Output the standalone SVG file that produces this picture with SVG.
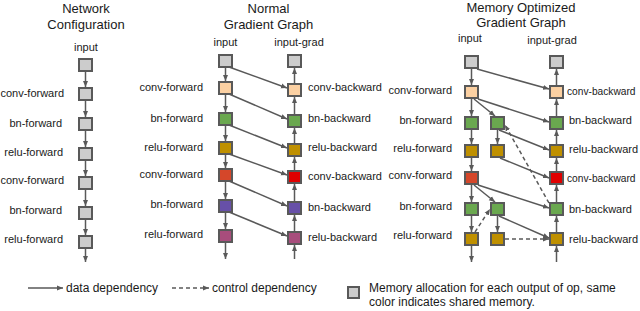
<svg xmlns="http://www.w3.org/2000/svg" width="640" height="311" viewBox="0 0 640 311">
<style>
text{font-family:"Liberation Sans",Arial,sans-serif;fill:#1a1a1a}
.t{font-size:13px;text-anchor:middle}
.l{font-size:11px}
.s{font-size:10.2px}
.e{text-anchor:end}
.m{text-anchor:middle}
.g{font-size:12px}
rect{stroke:#595959;stroke-width:2}
.gy{fill:#cccccc}.pe{fill:#fbd0a2}.gr{fill:#6aa84f}.mu{fill:#bf9000}.rf{fill:#d5472a}.rb{fill:#e00000}.pu{fill:#6750a8}.pk{fill:#a84d7c}
.c line,.lg line{stroke:#595959;stroke-width:1.5;marker-end:url(#a)}
.d{stroke-dasharray:4 3}
</style>
<defs>
<marker id="a" viewBox="0 0 6 6" refX="6" refY="3" markerWidth="6" markerHeight="6" markerUnits="userSpaceOnUse" orient="auto"><path d="M0,0.5L6,3L0,5.5z" fill="#595959"/></marker>
</defs>
<g id="titles">
<text class="t" x="86" y="13">Network</text><text class="t" x="86" y="29">Configuration</text>
<text class="t" x="268.5" y="13">Normal</text><text class="t" x="268.5" y="29">Gradient Graph</text>
<text class="t" x="521" y="12">Memory Optimized</text><text class="t" x="521" y="27">Gradient Graph</text>
</g>
<g id="p1">
<g id="p1-input"><text class="l m" x="86" y="51">input</text><rect class="gy" x="79" y="59" width="13" height="12"/></g>
<g id="p1-conv1"><text class="l e" x="64" y="97">conv-forward</text><rect class="gy" x="79" y="88" width="13" height="12"/></g>
<g id="p1-bn1"><text class="l e" x="62" y="127">bn-forward</text><rect class="gy" x="79" y="118" width="13" height="12"/></g>
<g id="p1-relu1"><text class="l e" x="63" y="156">relu-forward</text><rect class="gy" x="79" y="148" width="13" height="12"/></g>
<g id="p1-conv2"><text class="l e" x="64" y="184">conv-forward</text><rect class="gy" x="79" y="177" width="13" height="12"/></g>
<g id="p1-bn2"><text class="l e" x="62" y="214">bn-forward</text><rect class="gy" x="79" y="207" width="13" height="12"/></g>
<g id="p1-relu2"><text class="l e" x="63" y="243">relu-forward</text><rect class="gy" x="79" y="236" width="13" height="12"/></g>
</g>
<g id="p2">
<g id="p2-input"><text class="l m" x="225.5" y="46">input</text><rect class="gy" x="219" y="55" width="13" height="12"/></g>
<g id="p2-conv1"><text class="l e" x="203" y="91">conv-forward</text><rect class="pe" x="219" y="82" width="13" height="12"/></g>
<g id="p2-bn1"><text class="l e" x="203" y="122">bn-forward</text><rect class="gr" x="219" y="113" width="13" height="12"/></g>
<g id="p2-relu1"><text class="l e" x="203" y="151">relu-forward</text><rect class="mu" x="219" y="142" width="13" height="12"/></g>
<g id="p2-conv2"><text class="l e" x="203" y="178">conv-forward</text><rect class="rf" x="219" y="169" width="13" height="12"/></g>
<g id="p2-bn2"><text class="l e" x="203" y="208">bn-forward</text><rect class="pu" x="219" y="200" width="13" height="12"/></g>
<g id="p2-relu2"><text class="l e" x="203" y="238">relu-forward</text><rect class="pk" x="219" y="230" width="13" height="12"/></g>
<g id="p2-ingrad"><text class="l m" x="299" y="46">input-grad</text><rect class="gy" x="288" y="55" width="13" height="12"/></g>
<g id="p2-convb1"><text class="l" x="308" y="91">conv-backward</text><rect class="pe" x="288" y="84" width="13" height="12"/></g>
<g id="p2-bnb1"><text class="l" x="308" y="122">bn-backward</text><rect class="gr" x="288" y="115" width="13" height="12"/></g>
<g id="p2-relub1"><text class="l" x="308" y="151">relu-backward</text><rect class="mu" x="288" y="144" width="13" height="12"/></g>
<g id="p2-convb2"><text class="l" x="308" y="180">conv-backward</text><rect class="rb" x="288" y="171" width="13" height="12"/></g>
<g id="p2-bnb2"><text class="l" x="308" y="211">bn-backward</text><rect class="pu" x="288" y="202" width="13" height="12"/></g>
<g id="p2-relub2"><text class="l" x="308" y="241">relu-backward</text><rect class="pk" x="288" y="232" width="13" height="12"/></g>
</g>
<g id="p3">
<g id="p3-input"><text class="l m" x="470" y="42">input</text><rect class="gy" x="465" y="56" width="13" height="12"/></g>
<g id="p3-conv1"><text class="l e" x="452" y="94">conv-forward</text><rect class="pe" x="465" y="86" width="13" height="12"/></g>
<g id="p3-bn1"><text class="l e" x="452" y="124">bn-forward</text><rect class="gr" x="465" y="117" width="13" height="12"/></g>
<g id="p3-bn1c"><rect class="gr" x="491" y="117" width="13" height="12"/></g>
<g id="p3-relu1"><text class="l e" x="452" y="152">relu-forward</text><rect class="mu" x="465" y="145" width="13" height="12"/></g>
<g id="p3-relu1c"><rect class="mu" x="491" y="145" width="13" height="12"/></g>
<g id="p3-conv2"><text class="l e" x="452" y="179">conv-forward</text><rect class="rf" x="465" y="172" width="13" height="12"/></g>
<g id="p3-bn2"><text class="l e" x="452" y="210">bn-forward</text><rect class="gr" x="465" y="203" width="13" height="12"/></g>
<g id="p3-bn2c"><rect class="gr" x="491" y="203" width="13" height="12"/></g>
<g id="p3-relu2"><text class="l e" x="452" y="239">relu-forward</text><rect class="mu" x="465" y="233" width="13" height="12"/></g>
<g id="p3-relu2c"><rect class="mu" x="491" y="233" width="13" height="12"/></g>
<g id="p3-ingrad"><text class="l m" x="552" y="44">input-grad</text><rect class="gy" x="550" y="56" width="13" height="12"/></g>
<g id="p3-convb1"><text class="s" x="567" y="95">conv-backward</text><rect class="pe" x="550" y="86" width="13" height="12"/></g>
<g id="p3-bnb1"><text class="l" x="569" y="124">bn-backward</text><rect class="gr" x="550" y="117" width="13" height="12"/></g>
<g id="p3-relub1"><text class="l" x="569" y="153">relu-backward</text><rect class="mu" x="550" y="145" width="13" height="12"/></g>
<g id="p3-convb2"><text class="s" x="567" y="182">conv-backward</text><rect class="rb" x="550" y="172" width="13" height="12"/></g>
<g id="p3-bnb2"><text class="l" x="569" y="213">bn-backward</text><rect class="gr" x="550" y="203" width="13" height="12"/></g>
<g id="p3-relub2"><text class="l" x="569" y="243">relu-backward</text><rect class="mu" x="550" y="233" width="13" height="12"/></g>
</g>
<g id="connectors" class="c">
<line x1="85.5" y1="72" x2="85.5" y2="87"/>
<line x1="85.5" y1="101" x2="85.5" y2="117"/>
<line x1="85.5" y1="131" x2="85.5" y2="147"/>
<line x1="85.5" y1="161" x2="85.5" y2="176"/>
<line x1="85.5" y1="190" x2="85.5" y2="206"/>
<line x1="85.5" y1="220" x2="85.5" y2="235"/>
<line x1="85.5" y1="249" x2="85.5" y2="262"/>
<line x1="225.5" y1="68" x2="225.5" y2="81"/>
<line x1="225.5" y1="95" x2="225.5" y2="112"/>
<line x1="225.5" y1="126" x2="225.5" y2="141"/>
<line x1="225.5" y1="155" x2="225.5" y2="168"/>
<line x1="225.5" y1="182" x2="225.5" y2="199"/>
<line x1="225.5" y1="213" x2="225.5" y2="229"/>
<line x1="225.5" y1="243" x2="225.5" y2="259"/>
<line x1="294.5" y1="259" x2="294.5" y2="245"/>
<line x1="294.5" y1="231" x2="294.5" y2="215"/>
<line x1="294.5" y1="201" x2="294.5" y2="184"/>
<line x1="294.5" y1="170" x2="294.5" y2="157"/>
<line x1="294.5" y1="143" x2="294.5" y2="128"/>
<line x1="294.5" y1="114" x2="294.5" y2="97"/>
<line x1="294.5" y1="83" x2="294.5" y2="68"/>
<line x1="229" y1="67" x2="287" y2="88"/>
<line x1="229" y1="94" x2="287" y2="119"/>
<line x1="229" y1="125" x2="287" y2="148"/>
<line x1="229" y1="154" x2="287" y2="175"/>
<line x1="229" y1="181" x2="287" y2="206"/>
<line x1="229" y1="212" x2="287" y2="236"/>
<line x1="471.5" y1="69" x2="471.5" y2="85"/>
<line x1="471.5" y1="99" x2="471.5" y2="116"/>
<line x1="471.5" y1="130" x2="471.5" y2="144"/>
<line x1="471.5" y1="158" x2="471.5" y2="171"/>
<line x1="471.5" y1="185" x2="471.5" y2="202"/>
<line x1="471.5" y1="216" x2="471.5" y2="232"/>
<line x1="471.5" y1="246" x2="471.5" y2="262"/>
<line x1="497.5" y1="130" x2="497.5" y2="144"/>
<line x1="497.5" y1="216" x2="497.5" y2="232"/>
<line x1="556.5" y1="262" x2="556.5" y2="246"/>
<line x1="556.5" y1="232" x2="556.5" y2="216"/>
<line x1="556.5" y1="202" x2="556.5" y2="185"/>
<line x1="556.5" y1="171" x2="556.5" y2="158"/>
<line x1="556.5" y1="144" x2="556.5" y2="130"/>
<line x1="556.5" y1="116" x2="556.5" y2="99"/>
<line x1="556.5" y1="85" x2="556.5" y2="69"/>
<line x1="477" y1="69" x2="549" y2="89"/>
<line x1="474" y1="99" x2="495" y2="116"/>
<line x1="478" y1="99" x2="549" y2="122"/>
<line x1="499" y1="130" x2="549" y2="150"/>
<line x1="500" y1="158" x2="549" y2="178"/>
<line x1="474" y1="185" x2="495" y2="202"/>
<line x1="478" y1="185" x2="549" y2="208"/>
<line x1="499" y1="216" x2="549" y2="238"/>
<line class="d" x1="549" y1="203" x2="505" y2="125"/>
<line class="d" x1="475" y1="232" x2="490" y2="209"/>
<line class="d" x1="505" y1="239" x2="549" y2="239"/>
</g>
<g id="legend" class="lg">
<line x1="28" y1="288" x2="63" y2="288"/>
<text class="g" x="66" y="292">data dependency</text>
<line class="d" x1="172" y1="288" x2="209" y2="288"/>
<text class="g" x="212" y="292">control dependency</text>
<rect class="gy" x="348" y="287" width="11" height="11"/>
<text class="g" x="369" y="292">Memory allocation for each output of op, same</text>
<text class="g" x="369" y="306">color indicates shared memory.</text>
</g>
</svg>
